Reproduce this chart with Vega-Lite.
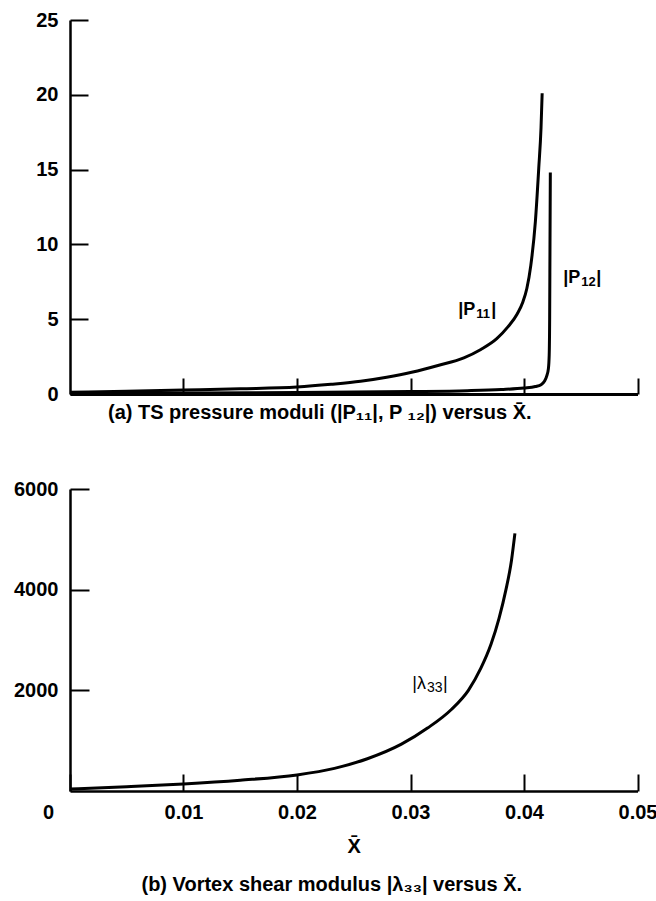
{
  "$schema": "https://vega.github.io/schema/vega-lite/v6.json",
  "background": "white",
  "padding": {"left": 0, "top": 10, "right": 0, "bottom": 0},
  "config": {
    "view": {"stroke": null},
    "font": "Liberation Sans",
    "axis": {
      "grid": false,
      "domainColor": "black",
      "domainWidth": 2.5,
      "tickColor": "black",
      "tickWidth": 2,
      "labelColor": "black",
      "labelFont": "Liberation Sans",
      "labelFontWeight": "bold",
      "labelFontSize": 20,
      "labelOverlap": false,
      "labelBound": false,
      "labelFlush": false,
      "titleColor": "black",
      "titleFont": "Liberation Sans",
      "titleFontWeight": "bold",
      "titleFontSize": 20
    },
    "title": {"color": "black", "font": "Liberation Sans", "fontWeight": "bold", "fontSize": 20}
  },
  "datasets": {
    "pcurves": [
      {"series": "P11", "x": 0, "y": 0.12},
      {"series": "P11", "x": 0.005, "y": 0.18},
      {"series": "P11", "x": 0.01, "y": 0.26},
      {"series": "P11", "x": 0.015, "y": 0.35},
      {"series": "P11", "x": 0.02, "y": 0.47},
      {"series": "P11", "x": 0.023, "y": 0.65},
      {"series": "P11", "x": 0.0256, "y": 0.85},
      {"series": "P11", "x": 0.0279, "y": 1.12},
      {"series": "P11", "x": 0.0301, "y": 1.45},
      {"series": "P11", "x": 0.0325, "y": 1.92},
      {"series": "P11", "x": 0.0347, "y": 2.42},
      {"series": "P11", "x": 0.0362, "y": 2.98},
      {"series": "P11", "x": 0.0376, "y": 3.7},
      {"series": "P11", "x": 0.0386, "y": 4.5},
      {"series": "P11", "x": 0.0394, "y": 5.35},
      {"series": "P11", "x": 0.0399, "y": 6.15},
      {"series": "P11", "x": 0.04025, "y": 7.05},
      {"series": "P11", "x": 0.0406, "y": 8.6},
      {"series": "P11", "x": 0.041, "y": 11.5},
      {"series": "P11", "x": 0.0413, "y": 15.1},
      {"series": "P11", "x": 0.0415, "y": 17.8},
      {"series": "P11", "x": 0.0416, "y": 20.1},
      {"series": "P12", "x": 0, "y": 0.05},
      {"series": "P12", "x": 0.01, "y": 0.07},
      {"series": "P12", "x": 0.02, "y": 0.1},
      {"series": "P12", "x": 0.03, "y": 0.16},
      {"series": "P12", "x": 0.035, "y": 0.22},
      {"series": "P12", "x": 0.038, "y": 0.3},
      {"series": "P12", "x": 0.04, "y": 0.4},
      {"series": "P12", "x": 0.041, "y": 0.5},
      {"series": "P12", "x": 0.0415, "y": 0.62},
      {"series": "P12", "x": 0.0418, "y": 0.85},
      {"series": "P12", "x": 0.042, "y": 1.2},
      {"series": "P12", "x": 0.04215, "y": 1.7},
      {"series": "P12", "x": 0.04222, "y": 2.6},
      {"series": "P12", "x": 0.04226, "y": 5},
      {"series": "P12", "x": 0.04229, "y": 10},
      {"series": "P12", "x": 0.04232, "y": 14.8}
    ],
    "plabels": [
      {"x": 0.0358, "y": 5.6, "main": "|P", "sub": "11"},
      {"x": 0.04505, "y": 7.75, "main": "|P", "sub": "12"}
    ],
    "lambda": [
      {"x": 0, "y": 40},
      {"x": 0.005, "y": 85},
      {"x": 0.01, "y": 140},
      {"x": 0.015, "y": 215},
      {"x": 0.02, "y": 320},
      {"x": 0.0233, "y": 450},
      {"x": 0.0262, "y": 640},
      {"x": 0.0292, "y": 930},
      {"x": 0.0315, "y": 1250},
      {"x": 0.0336, "y": 1620},
      {"x": 0.0351, "y": 2000},
      {"x": 0.0362, "y": 2440},
      {"x": 0.0371, "y": 2920},
      {"x": 0.0378, "y": 3430},
      {"x": 0.0384, "y": 3990},
      {"x": 0.0389, "y": 4586},
      {"x": 0.0392, "y": 5117}
    ],
    "llabels": [
      {"x": 0.03145, "y": 2135, "main": "|λ", "sub": "33"}
    ]
  },
  "columns": 1,
  "align": "none",
  "spacing": 56,
  "concat": [
    {
      "width": 567.5,
      "height": 374,
      "title": {"text": "(a) TS pressure moduli (|P₁₁|, P ₁₂|)  versus X̄.", "orient": "bottom", "anchor": "middle", "dx": -34, "offset": -1},
      "layer": [
        {
          "data": {"name": "pcurves"},
          "mark": {"type": "line", "color": "black", "strokeWidth": 3, "interpolate": "monotone"},
          "encoding": {
            "x": {"field": "x", "type": "quantitative", "scale": {"domain": [0, 0.05], "nice": false},
              "axis": {"values": [0.01, 0.02, 0.03, 0.04, 0.05], "labels": false, "tickSize": -16, "title": null, "domainWidth": 3}},
            "y": {"field": "y", "type": "quantitative", "scale": {"domain": [0, 25], "nice": false},
              "axis": {"values": [0, 5, 10, 15, 20, 25], "tickSize": -18, "labelPadding": 30, "format": "d", "title": null, "minExtent": 69.5, "maxExtent": 69.5}},
            "detail": {"field": "series"}
          }
        },
        {
          "data": {"name": "plabels"},
          "mark": {"type": "text", "color": "black", "font": "Liberation Sans", "fontSize": 18, "fontWeight": "bold", "align": "right", "baseline": "middle", "dx": -1},
          "encoding": {
            "x": {"field": "x", "type": "quantitative"},
            "y": {"field": "y", "type": "quantitative"},
            "text": {"field": "main"}
          }
        },
        {
          "data": {"name": "plabels"},
          "mark": {"type": "text", "color": "black", "font": "Liberation Sans", "fontSize": 13, "fontWeight": "bold", "align": "left", "baseline": "middle", "dx": 0, "dy": 4},
          "encoding": {
            "x": {"field": "x", "type": "quantitative"},
            "y": {"field": "y", "type": "quantitative"},
            "text": {"field": "sub"}
          }
        },
        {
          "data": {"name": "plabels"},
          "mark": {"type": "text", "color": "black", "font": "Liberation Sans", "fontSize": 18, "fontWeight": "bold", "align": "left", "baseline": "middle", "dx": 15},
          "encoding": {
            "x": {"field": "x", "type": "quantitative"},
            "y": {"field": "y", "type": "quantitative"},
            "text": {"value": "|"}
          }
        }
      ]
    },
    {
      "width": 567.5,
      "height": 302,
      "title": {"text": "(b) Vortex shear modulus |λ₃₃| versus X̄.", "orient": "bottom", "anchor": "middle", "dx": -22, "offset": 19},
      "layer": [
        {
          "data": {"name": "lambda"},
          "mark": {"type": "line", "color": "black", "strokeWidth": 3, "interpolate": "monotone"},
          "encoding": {
            "x": {"field": "x", "type": "quantitative", "scale": {"domain": [0, 0.05], "nice": false},
              "axis": {"values": [0, 0.01, 0.02, 0.03, 0.04, 0.05], "tickSize": -17, "labelPadding": 28,
                "labelExpr": "datum.value === 0 ? '0' : format(datum.value, '.2f')",
                "labelOffset": {"condition": {"test": "datum.value === 0", "value": -22}, "value": 0},
                "title": "X̄", "titlePadding": 14}},
            "y": {"field": "y", "type": "quantitative", "scale": {"domain": [0, 6000], "nice": false},
              "axis": {"values": [2000, 4000, 6000], "tickSize": -19, "labelPadding": 31, "format": "d", "title": null, "minExtent": 65.5, "maxExtent": 65.5}}
          }
        },
        {
          "data": {"name": "llabels"},
          "mark": {"type": "text", "color": "black", "font": "Liberation Sans", "fontSize": 18, "align": "right", "baseline": "middle", "dx": -1},
          "encoding": {
            "x": {"field": "x", "type": "quantitative"},
            "y": {"field": "y", "type": "quantitative"},
            "text": {"field": "main"}
          }
        },
        {
          "data": {"name": "llabels"},
          "mark": {"type": "text", "color": "black", "font": "Liberation Sans", "fontSize": 14, "align": "left", "baseline": "middle", "dx": 0, "dy": 4},
          "encoding": {
            "x": {"field": "x", "type": "quantitative"},
            "y": {"field": "y", "type": "quantitative"},
            "text": {"field": "sub"}
          }
        },
        {
          "data": {"name": "llabels"},
          "mark": {"type": "text", "color": "black", "font": "Liberation Sans", "fontSize": 18, "align": "left", "baseline": "middle", "dx": 16},
          "encoding": {
            "x": {"field": "x", "type": "quantitative"},
            "y": {"field": "y", "type": "quantitative"},
            "text": {"value": "|"}
          }
        }
      ]
    }
  ]
}
